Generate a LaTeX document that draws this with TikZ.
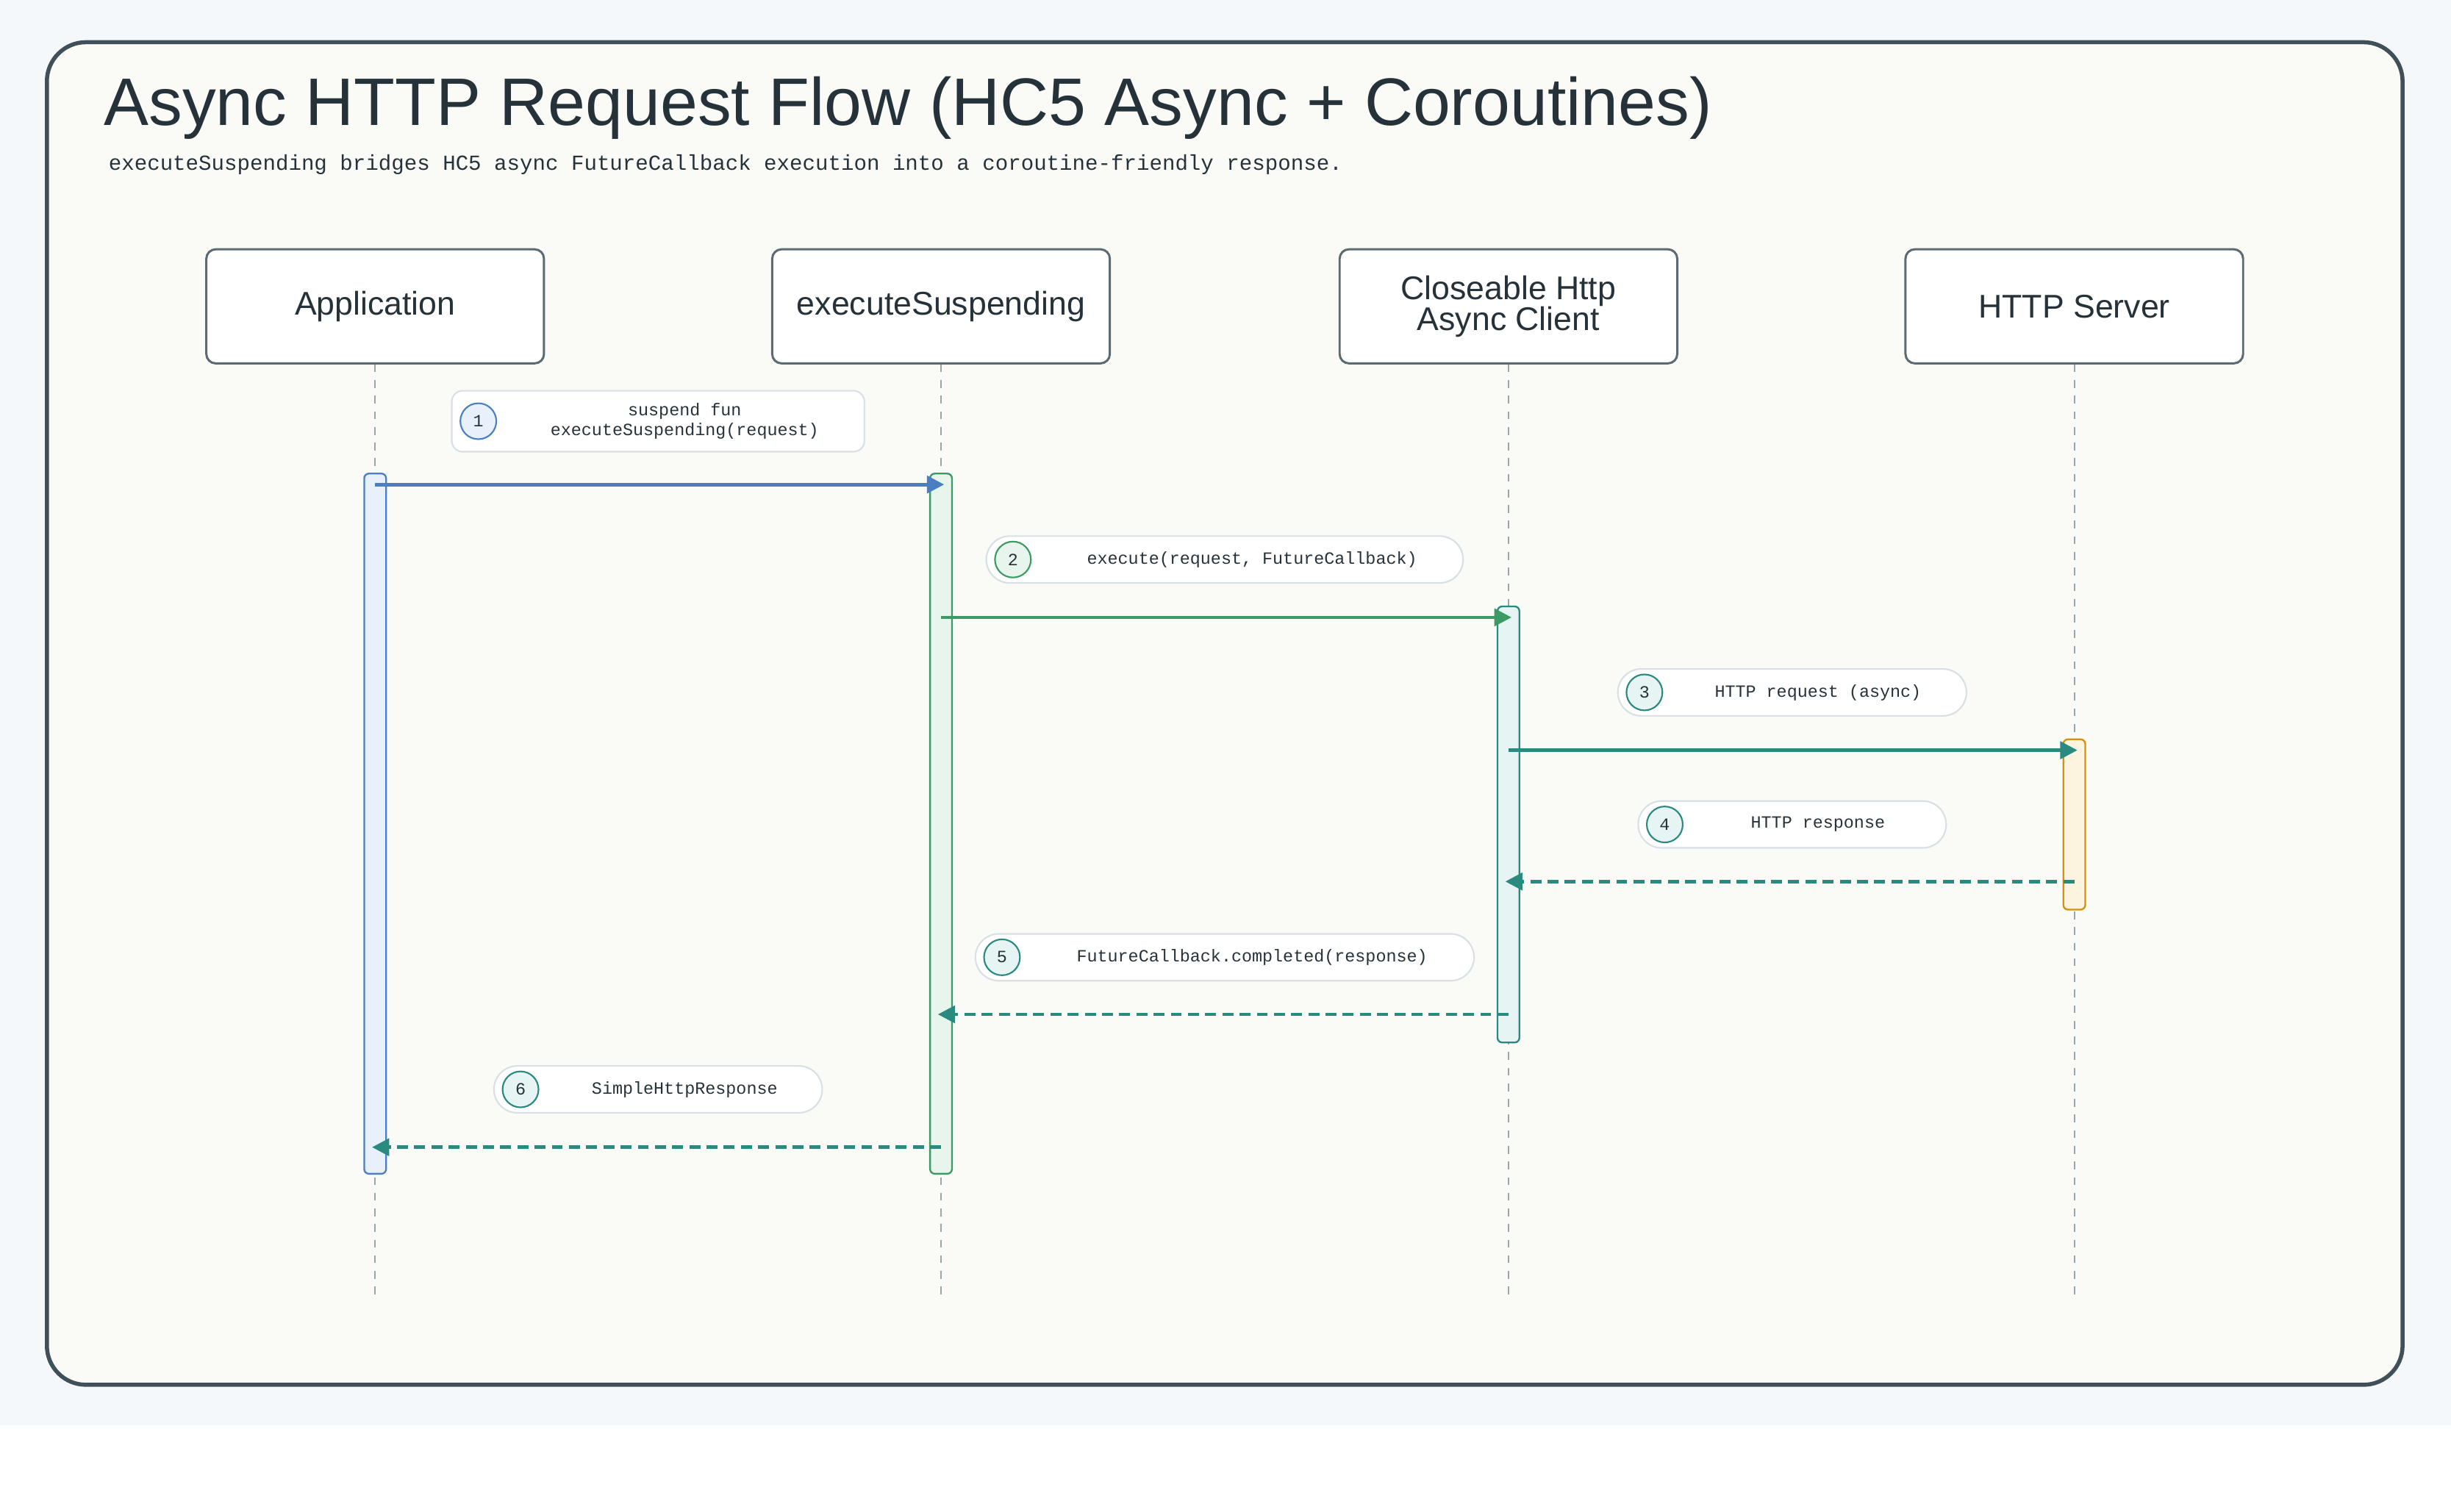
\documentclass[tikz,border=0pt]{standalone}
\usepackage{fontspec}
\setmainfont{Liberation Sans}
\newfontfamily\monofont{Liberation Mono}
\usepackage{xcolor}
\usetikzlibrary{arrows.meta}
\definecolor{page}{HTML}{F5F8FA}
\definecolor{paper}{HTML}{FAFAF7}
\definecolor{frame}{HTML}{3F5059}
\definecolor{ink}{HTML}{26323A}
\definecolor{life}{HTML}{98A6AE}
\definecolor{pill}{HTML}{D9E0E5}
\definecolor{blue}{HTML}{4A7FC1}
\definecolor{bluef}{HTML}{E8F0FB}
\definecolor{green}{HTML}{3C9A64}
\definecolor{greenf}{HTML}{E8F5EC}
\definecolor{teal}{HTML}{2A8A80}
\definecolor{tealf}{HTML}{E6F4F3}
\definecolor{orange}{HTML}{D4920A}
\definecolor{orangef}{HTML}{FDF4E0}
\tikzset{
  part/.style={draw=frame!85, fill=white, line width=1.4pt, rounded corners=6pt,
    minimum width=216pt, minimum height=73pt, align=center, text=ink, font=\fontsize{21}{20}\selectfont},
  life/.style={draw=life, dashed, line width=1pt, dash pattern=on 5pt off 5pt},
  act/.style={line width=1.1pt, rounded corners=3pt},
  msg/.style={line width=2.2pt, -{Triangle[length=11pt,width=11pt]}},
  ret/.style={msg, dash pattern=on 7pt off 4pt},
  note/.style={draw=pill, fill=white, line width=1pt, rounded corners=15pt, minimum height=30pt},
  num/.style={circle, line width=1pt, minimum size=23pt, inner sep=0pt, text=ink, font=\monofont\fontsize{11}{12}\selectfont},
  lab/.style={text=ink, font=\monofont\fontsize{11}{12.5}\selectfont, align=center},
}
\begin{document}
\begin{tikzpicture}[x=1pt,y=-1pt]
  \fill[page] (0,0) rectangle (1568,912);
  \fill[white] (0,912) rectangle (1568,967);
  \useasboundingbox (0,0) rectangle (1568,967);
  \draw[frame, fill=paper, line width=2.6pt, rounded corners=25pt] (30,27) rectangle (1537,886);

  \node[anchor=base west, text=ink, font=\fontsize{43}{46}\selectfont] (title) at (63,80) {Async HTTP Request Flow (HC5 Async + Coroutines)};
  \node[anchor=base west, text=ink, font=\monofont\fontsize{13.7}{16}\selectfont] (sub) at (66,109) {executeSuspending bridges HC5 async FutureCallback execution into a coroutine-friendly response.};

  % participants
  \node[part] (app) at (240,196) {Application};
  \node[part] (susp) at (602,196) {executeSuspending};
  \node[part] (client) at (965,196) {Closeable Http\\Async Client};
  \node[part] (server) at (1327,196) {HTTP Server};

  \foreach \p in {app,susp,client,server}
    \draw[life] (\p.south) -- ++(0,599);

  % activations
  \draw[act, draw=blue, fill=bluef] (233,303) rectangle (247,751);
  \draw[act, draw=green, fill=greenf] (595,303) rectangle (609,751);
  \draw[act, draw=teal, fill=tealf] (958,388) rectangle (972,667);
  \draw[act, draw=orange, fill=orangef] (1320,473) rectangle (1334,582);

  % messages
  \coordinate (m1a) at (240,310); \coordinate (m1b) at (604,310);
  \coordinate (m2a) at (602,395); \coordinate (m2b) at (967,395);
  \coordinate (m3a) at (965,480); \coordinate (m3b) at (1329,480);
  \coordinate (m4a) at (1327,564); \coordinate (m4b) at (963,564);
  \coordinate (m5a) at (965,649); \coordinate (m5b) at (600,649);
  \coordinate (m6a) at (602,734); \coordinate (m6b) at (238,734);
  \draw[msg, blue] (m1a) -- (m1b);
  \draw[msg, green] (m2a) -- (m2b);
  \draw[msg, teal] (m3a) -- (m3b);
  \draw[ret, teal] (m4a) -- (m4b);
  \draw[ret, teal] (m5a) -- (m5b);
  \draw[ret, teal] (m6a) -- (m6b);

  % labels
  \node[note, rounded corners=7pt, minimum width=264pt, minimum height=39pt] (n1) at (421,269.5) {};
  \node[num, draw=blue, fill=bluef] (c1) at (306,269.5) {1};
  \node[lab] (l1) at (438,269.5) {suspend fun\\executeSuspending(request)};

  \node[note, minimum width=305pt] (n2) at (783.5,358) {};
  \node[num, draw=green, fill=greenf] (c2) at (648,358) {2};
  \node[lab] (l2) at (801,358) {execute(request, FutureCallback)};

  \node[note, minimum width=223pt] (n3) at (1146.5,443) {};
  \node[num, draw=teal, fill=tealf] (c3) at (1052,443) {3};
  \node[lab] (l3) at (1163,443) {HTTP request (async)};

  \node[note, minimum width=197pt] (n4) at (1146.5,527.5) {};
  \node[num, draw=teal, fill=tealf] (c4) at (1065,527.5) {4};
  \node[lab] (l4) at (1163,527.5) {HTTP response};

  \node[note, minimum width=319pt] (n5) at (783.5,612.5) {};
  \node[num, draw=teal, fill=tealf] (c5) at (641,612.5) {5};
  \node[lab] (l5) at (801,612.5) {FutureCallback.completed(response)};

  \node[note, minimum width=210pt] (n6) at (421,697) {};
  \node[num, draw=teal, fill=tealf] (c6) at (333,697) {6};
  \node[lab] (l6) at (438,697) {SimpleHttpResponse};
\end{tikzpicture}
\end{document}
